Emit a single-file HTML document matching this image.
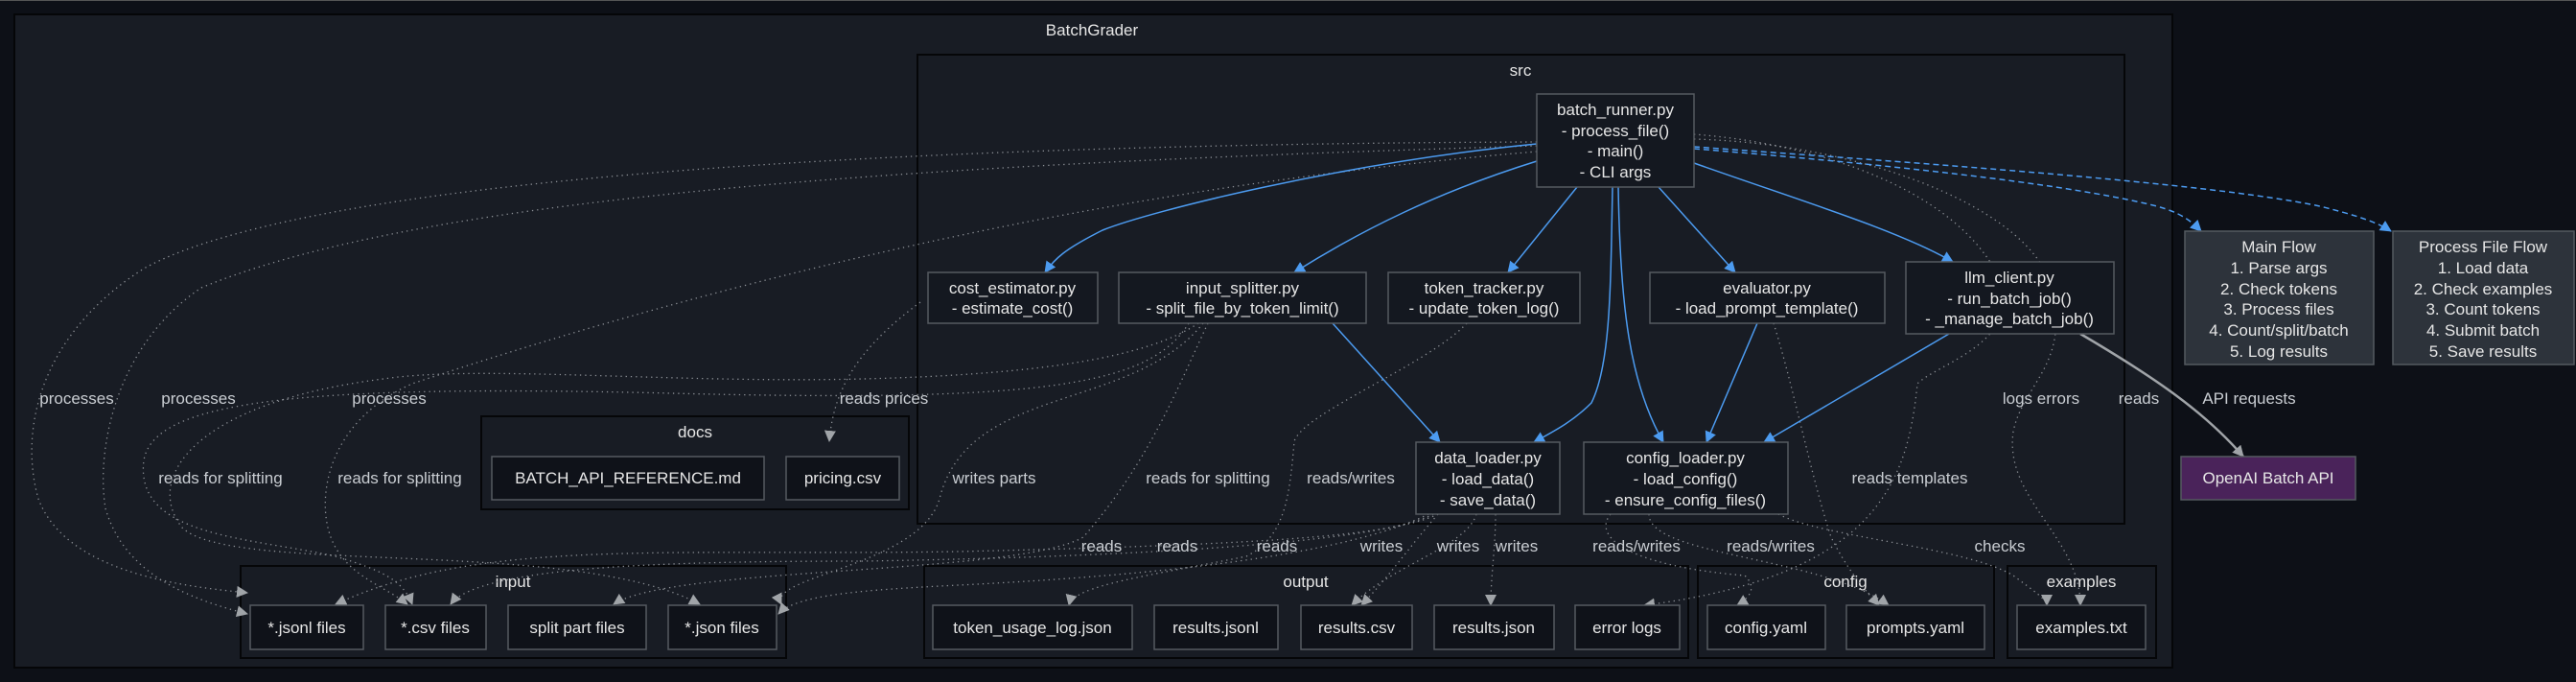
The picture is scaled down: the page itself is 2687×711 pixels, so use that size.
<!DOCTYPE html>
<html><head><meta charset="utf-8"><style>
html,body{margin:0;padding:0;background:#0d1017;}
svg{display:block;}
text{font-family:"Liberation Sans",sans-serif;font-size:17px;fill:#e6e6e6;text-anchor:middle;}
.lbl{fill:#c9cdd2;}
.cl{fill:#181c24;stroke:#050608;stroke-width:2;}
.nd{fill:#141820;stroke:#555a60;stroke-width:1.5;}
.fl{fill:#0f1219;stroke:#555a60;stroke-width:1.5;}
.b{fill:none;stroke:#4c9bf0;stroke-width:1.5;}
.d{fill:none;stroke:#8b8f95;stroke-width:1.3;stroke-dasharray:1.3 4;}
</style></head><body>
<svg width="2687" height="711" viewBox="0 0 2687 711" xmlns="http://www.w3.org/2000/svg">
<defs>
<marker id="ab" markerWidth="12" markerHeight="12" refX="11" refY="6" orient="auto" markerUnits="userSpaceOnUse"><path d="M0,0 L12,6 L0,12 z" fill="#4c9bf0"/></marker>
<marker id="ag" markerWidth="12" markerHeight="12" refX="11" refY="6" orient="auto" markerUnits="userSpaceOnUse"><path d="M0,0 L12,6 L0,12 z" fill="#a0a4a8"/></marker>
</defs>
<rect x="0" y="0" width="2687" height="1" fill="#555"/>
<rect class="cl" x="15" y="15" width="2251" height="681"/>
<text x="1139" y="37">BatchGrader</text>
<rect class="cl" x="957" y="57" width="1259" height="489"/>
<text x="1586" y="79">src</text>
<rect class="cl" x="502" y="434" width="446" height="97"/>
<text x="725" y="456">docs</text>
<rect class="cl" x="251" y="590" width="569" height="96"/>
<text x="535" y="612">input</text>
<rect class="cl" x="964" y="590" width="797" height="96"/>
<text x="1362" y="612">output</text>
<rect class="cl" x="1771" y="590" width="309" height="96"/>
<text x="1925" y="612">config</text>
<rect class="cl" x="2094" y="590" width="155" height="96"/>
<text x="2171" y="612">examples</text>

<path class="d" marker-end="url(#ag)" d="M1603,148 C1000,150 330,180 150,280 C40,350 20,450 40,520 C70,600 200,612 258,618"/>
<path class="d" marker-end="url(#ag)" d="M1603,152 C1000,170 450,200 210,300 C120,360 100,470 110,530 C130,600 200,625 258,640"/>
<path class="d" marker-end="url(#ag)" d="M1603,158 C1100,200 700,310 430,400 C340,440 330,520 345,560 C360,600 400,610 425,630"/>
<path class="d" marker-end="url(#ag)" d="M1250,337 C1200,370 1100,390 900,395 C700,400 500,380 400,395 C200,420 150,500 190,550 C240,600 600,560 730,630"/>
<path class="d" marker-end="url(#ag)" d="M1240,337 C1200,400 1100,420 700,410 C300,400 160,420 150,480 C140,560 260,560 350,580 C400,595 420,605 430,630"/>
<path class="d" marker-end="url(#ag)" d="M1255,337 C1180,430 1010,400 980,520 C960,590 800,600 815,630"/>
<path class="d" marker-end="url(#ag)" d="M1260,337 C1230,400 1200,480 1130,560 C1060,600 700,590 640,630"/>
<path class="d" marker-end="url(#ag)" d="M960,315 C900,360 870,400 865,460"/>
<path class="d" marker-end="url(#ag)" d="M1500,536 C1450,560 1300,568 1000,575 C700,580 500,560 350,630"/>
<path class="d" marker-end="url(#ag)" d="M1495,536 C1440,565 1200,580 900,585 C700,585 500,590 470,630"/>
<path class="d" marker-end="url(#ag)" d="M1490,536 C1400,580 1200,600 1000,610 C900,615 830,620 812,640"/>
<path class="d" marker-end="url(#ag)" d="M1530,337 C1490,380 1360,430 1350,460 C1345,520 1340,560 1300,580 C1200,600 1120,610 1115,631"/>
<path class="d" marker-end="url(#ag)" d="M1500,536 C1470,570 1450,600 1420,631"/>
<path class="d" marker-end="url(#ag)" d="M1540,536 C1530,570 1450,590 1410,631"/>
<path class="d" marker-end="url(#ag)" d="M1560,536 C1560,570 1555,600 1555,631"/>
<path class="d" marker-end="url(#ag)" d="M1680,536 C1660,560 1700,590 1820,600 C1830,610 1830,620 1812,631"/>
<path class="d" marker-end="url(#ag)" d="M1720,536 C1720,580 1900,580 1970,631"/>
<path class="d" marker-end="url(#ag)" d="M1850,337 C1870,400 1890,500 1910,560 C1930,600 1950,620 1960,631"/>
<path class="d" marker-end="url(#ag)" d="M1855,536 C1900,560 2050,570 2100,600 C2120,615 2135,625 2135,631"/>
<path class="d" marker-end="url(#ag)" d="M1767,140 C1900,150 2050,200 2090,300 C2100,360 2020,380 2000,400 C1990,500 1960,600 1715,631"/>
<path class="d" marker-end="url(#ag)" d="M1767,145 C1950,150 2120,220 2140,300 C2160,380 2110,400 2100,450 C2090,520 2170,560 2170,631"/>

<path class="b" marker-end="url(#ab)" d="M1603,150 C1400,170 1200,220 1150,240 C1110,260 1100,270 1090,284"/>
<path class="b" marker-end="url(#ab)" d="M1603,168 C1500,200 1420,240 1350,284"/>
<path class="b" marker-end="url(#ab)" d="M1645,195 L1573,284"/>
<path class="b" marker-end="url(#ab)" d="M1682,195 C1680,300 1680,380 1660,420 C1640,440 1620,450 1600,461"/>
<path class="b" marker-end="url(#ab)" d="M1688,195 C1690,320 1700,400 1735,461"/>
<path class="b" marker-end="url(#ab)" d="M1730,195 L1810,284"/>
<path class="b" marker-end="url(#ab)" d="M1767,170 C1880,210 1980,240 2037,273"/>
<path class="b" marker-end="url(#ab)" d="M1390,337 L1502,461"/>
<path class="b" marker-end="url(#ab)" d="M1833,337 L1780,461"/>
<path class="b" marker-end="url(#ab)" d="M2033,348 L1840,461"/>
<path class="b" stroke-dasharray="6 4" marker-end="url(#ab)" d="M1767,155 C1950,170 2150,190 2250,215 C2275,222 2285,230 2296,241"/>
<path class="b" stroke-dasharray="6 4" marker-end="url(#ab)" d="M1767,153 C2000,170 2300,190 2420,215 C2460,225 2480,232 2494,241"/>
<path fill="none" stroke="#a0a4a8" stroke-width="2.5" marker-end="url(#ag)" d="M2170,348 C2250,395 2300,430 2340,476"/>

<rect class="nd" x="1603" y="98" width="164" height="97"/>
<text x="1685" y="120">batch_runner.py</text><text x="1685" y="142">- process_file()</text><text x="1685" y="163">- main()</text><text x="1685" y="185">- CLI args</text>
<rect class="nd" x="968" y="284" width="177" height="53"/>
<text x="1056" y="306">cost_estimator.py</text><text x="1056" y="327">- estimate_cost()</text>
<rect class="nd" x="1167" y="284" width="258" height="53"/>
<text x="1296" y="306">input_splitter.py</text><text x="1296" y="327">- split_file_by_token_limit()</text>
<rect class="nd" x="1448" y="284" width="200" height="53"/>
<text x="1548" y="306">token_tracker.py</text><text x="1548" y="327">- update_token_log()</text>
<rect class="nd" x="1721" y="284" width="245" height="53"/>
<text x="1843" y="306">evaluator.py</text><text x="1843" y="327">- load_prompt_template()</text>
<rect class="nd" x="1988" y="273" width="217" height="75"/>
<text x="2096" y="295">llm_client.py</text><text x="2096" y="317">- run_batch_job()</text><text x="2096" y="338">- _manage_batch_job()</text>
<rect class="nd" x="1477" y="461" width="150" height="75"/>
<text x="1552" y="483">data_loader.py</text><text x="1552" y="505">- load_data()</text><text x="1552" y="527">- save_data()</text>
<rect class="nd" x="1652" y="461" width="213" height="75"/>
<text x="1758" y="483">config_loader.py</text><text x="1758" y="505">- load_config()</text><text x="1758" y="527">- ensure_config_files()</text>
<rect x="2279" y="241" width="197" height="139" fill="#2d333b" stroke="#555a60" stroke-width="1.5"/>
<text x="2377" y="263">Main Flow</text><text x="2377" y="285">1. Parse args</text><text x="2377" y="307">2. Check tokens</text><text x="2377" y="328">3. Process files</text><text x="2377" y="350">4. Count/split/batch</text><text x="2377" y="372">5. Log results</text>
<rect x="2496" y="241" width="189" height="139" fill="#2d333b" stroke="#555a60" stroke-width="1.5"/>
<text x="2590" y="263">Process File Flow</text><text x="2590" y="285">1. Load data</text><text x="2590" y="307">2. Check examples</text><text x="2590" y="328">3. Count tokens</text><text x="2590" y="350">4. Submit batch</text><text x="2590" y="372">5. Save results</text>
<rect x="2275" y="476" width="182" height="45" fill="#4a235a" stroke="#555a60" stroke-width="1.5"/>
<text x="2366" y="504">OpenAI Batch API</text>

<g>
<rect class="fl" x="513" y="476" width="284" height="45"/><text x="655" y="504">BATCH_API_REFERENCE.md</text>
<rect class="fl" x="820" y="476" width="118" height="45"/><text x="879" y="504">pricing.csv</text>
<rect class="fl" x="261" y="631" width="118" height="46"/><text x="320" y="660">*.jsonl files</text>
<rect class="fl" x="402" y="631" width="105" height="46"/><text x="454" y="660">*.csv files</text>
<rect class="fl" x="530" y="631" width="144" height="46"/><text x="602" y="660">split part files</text>
<rect class="fl" x="697" y="631" width="113" height="46"/><text x="753" y="660">*.json files</text>
<rect class="fl" x="973" y="631" width="208" height="46"/><text x="1077" y="660">token_usage_log.json</text>
<rect class="fl" x="1204" y="631" width="129" height="46"/><text x="1268" y="660">results.jsonl</text>
<rect class="fl" x="1357" y="631" width="116" height="46"/><text x="1415" y="660">results.csv</text>
<rect class="fl" x="1496" y="631" width="125" height="46"/><text x="1558" y="660">results.json</text>
<rect class="fl" x="1643" y="631" width="109" height="46"/><text x="1697" y="660">error logs</text>
<rect class="fl" x="1781" y="631" width="123" height="46"/><text x="1842" y="660">config.yaml</text>
<rect class="fl" x="1926" y="631" width="144" height="46"/><text x="1998" y="660">prompts.yaml</text>
<rect class="fl" x="2104" y="631" width="134" height="46"/><text x="2171" y="660">examples.txt</text>
</g>

<g>
<text class="lbl" x="80" y="421">processes</text>
<text class="lbl" x="207" y="421">processes</text>
<text class="lbl" x="406" y="421">processes</text>
<text class="lbl" x="922" y="421">reads prices</text>
<text class="lbl" x="2129" y="421">logs errors</text>
<text class="lbl" x="2231" y="421">reads</text>
<text class="lbl" x="2346" y="421">API requests</text>
<text class="lbl" x="230" y="504">reads for splitting</text>
<text class="lbl" x="417" y="504">reads for splitting</text>
<text class="lbl" x="1037" y="504">writes parts</text>
<text class="lbl" x="1260" y="504">reads for splitting</text>
<text class="lbl" x="1409" y="504">reads/writes</text>
<text class="lbl" x="1992" y="504">reads templates</text>
<text class="lbl" x="1149" y="575">reads</text>
<text class="lbl" x="1228" y="575">reads</text>
<text class="lbl" x="1332" y="575">reads</text>
<text class="lbl" x="1441" y="575">writes</text>
<text class="lbl" x="1521" y="575">writes</text>
<text class="lbl" x="1582" y="575">writes</text>
<text class="lbl" x="1707" y="575">reads/writes</text>
<text class="lbl" x="1847" y="575">reads/writes</text>
<text class="lbl" x="2086" y="575">checks</text>
</g>
</svg>
</body></html>
